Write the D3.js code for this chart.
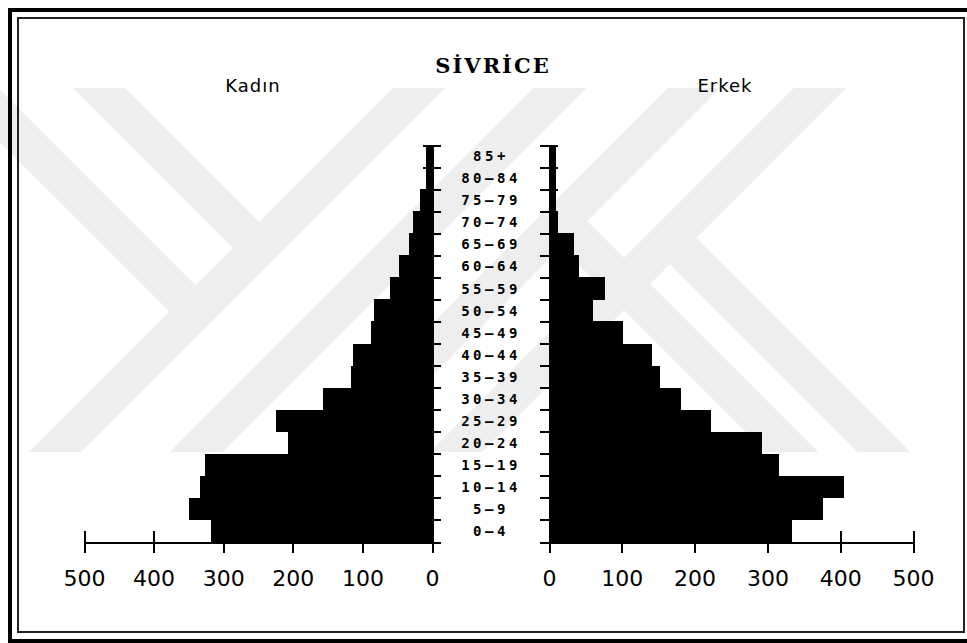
<!DOCTYPE html>
<html>
<head>
<meta charset="utf-8">
<script src="https://cdn.jsdelivr.net/npm/d3@7"></script>
<style>
  html, body { margin: 0; padding: 0; background: #fff; }
  svg { display: block; }
</style>
</head>
<body>
<svg id="chart"></svg>
<script>
// age groups, bottom to top
const ages = ["0–4", "5–9", "10–14", "15–19", "20–24", "25–29", "30–34", "35–39", "40–44",
              "45–49", "50–54", "55–59", "60–64", "65–69", "70–74", "75–79", "80–84", "85+"];
// Kadın (women), left side
const kadin = [318, 349, 334, 326, 207, 224, 157, 116, 113, 87, 84, 61, 47, 33, 27, 17, 9, 9];
// Erkek (men), right side
const erkek = [334, 377, 405, 316, 292, 223, 181, 152, 141, 102, 60, 77, 41, 34, 13, 10, 9, 9];
const xTicks = [0, 100, 200, 300, 400, 500];

const W = 967, H = 643;
const svg = d3.select('#chart').attr('width', W).attr('height', H);

svg.append('rect').attr('width', W).attr('height', H).attr('fill', '#fff');

// faint watermark behind the chart
const wm = svg.append('g').attr('clip-path', 'url(#wmclip)');
svg.append('defs').append('clipPath').attr('id', 'wmclip')
  .append('rect').attr('x', 0).attr('y', 88).attr('width', W).attr('height', 364);
const wmBands = [
  [[-88, 28], [195, 311]],
  [[39, 28], [259, 248]],
  [[479, 28], [-81, 588]],
  [[620, 28], [60, 588]],
  [[754, 28], [194, 588]],
  [[880, 28], [320, 588]],
  [[670, 238], [990, 558]],
  [[561, 221], [881, 541]]
];
wm.selectAll('line').data(wmBands).join('line')
  .attr('x1', d => d[0][0]).attr('y1', d => d[0][1])
  .attr('x2', d => d[1][0]).attr('y2', d => d[1][1])
  .attr('stroke', '#eeeeee').attr('stroke-width', 37);

// frames
svg.append('rect').attr('x', 10).attr('y', 10).attr('width', 1000).attr('height', 631)
  .attr('fill', 'none').attr('stroke', '#000').attr('stroke-width', 4);
svg.append('rect').attr('x', 18).attr('y', 18).attr('width', 946).attr('height', 614)
  .attr('fill', 'none').attr('stroke', '#222').attr('stroke-width', 2);

// scales
const xL = d3.scaleLinear().domain([0, 500]).range([432, 84]);
const xR = d3.scaleLinear().domain([0, 500]).range([549, 913]);
const y = d3.scaleBand().domain(ages).range([542, 145]);
const yEdge = d3.scaleLinear().domain([0, ages.length]).range([542, 145]);

// bars
svg.append('g').attr('shape-rendering', 'crispEdges')
  .selectAll('rect').data(ages).join('rect')
  .attr('x', (d, i) => xL(kadin[i]))
  .attr('y', d => y(d))
  .attr('width', (d, i) => xL(0) - xL(kadin[i]))
  .attr('height', y.bandwidth() + 0.5)
  .attr('fill', '#000');

svg.append('g').attr('shape-rendering', 'crispEdges')
  .selectAll('rect').data(ages).join('rect')
  .attr('x', xR(0))
  .attr('y', d => y(d))
  .attr('width', (d, i) => xR(erkek[i]) - xR(0))
  .attr('height', y.bandwidth() + 0.5)
  .attr('fill', '#000');

function styleAxis(g) {
  g.selectAll('path, line').attr('stroke', '#000').attr('stroke-width', 2)
    .attr('shape-rendering', 'crispEdges');
}

// bottom axes
[xL, xR].forEach(sc => {
  svg.append('g')
    .attr('transform', 'translate(0,542)')
    .call(d3.axisBottom(sc).tickValues(xTicks).tickSize(11).tickSizeOuter(0))
    .call(styleAxis)
    .call(g => g.selectAll('.tick line').attr('y1', -11).attr('y2', 11))
    .call(g => g.selectAll('.tick text')
      .attr('y', 44).attr('dy', null)
      .attr('fill', '#000')
      .style('font-family', '"DejaVu Sans", sans-serif')
      .style('font-size', '22px'));
});

// vertical axes with ticks at the group boundaries
svg.append('g')
  .attr('transform', 'translate(432,0)')
  .call(d3.axisRight(yEdge).tickValues(d3.range(ages.length + 1)).tickSize(9).tickSizeOuter(0).tickFormat(''))
  .call(styleAxis)
  .call(g => g.selectAll('.tick line').attr('x1', -9));

svg.append('g')
  .attr('transform', 'translate(549,0)')
  .call(d3.axisLeft(yEdge).tickValues(d3.range(ages.length + 1)).tickSize(9).tickSizeOuter(0).tickFormat(''))
  .call(styleAxis)
  .call(g => g.selectAll('.tick line').attr('x1', 9));

// age labels in the middle
svg.append('g').selectAll('text').data(ages).join('text')
  .attr('x', 491)
  .attr('y', d => y(d) + y.bandwidth() / 2)
  .attr('dy', '0.37em')
  .attr('text-anchor', 'middle')
  .style('font-family', '"DejaVu Sans Mono", monospace')
  .style('font-weight', 'bold')
  .style('font-size', '14px')
  .style('letter-spacing', '3.5px')
  .text(d => d);

// titles
svg.append('text')
  .attr('x', 493).attr('y', 73)
  .attr('text-anchor', 'middle')
  .style('font-family', '"DejaVu Serif", serif')
  .style('font-weight', 'bold')
  .style('font-size', '21px')
  .style('letter-spacing', '2px')
  .text('SİVRİCE');

svg.append('text')
  .attr('x', 253).attr('y', 92)
  .attr('text-anchor', 'middle')
  .style('font-family', '"DejaVu Sans", sans-serif')
  .style('font-size', '18px')
  .style('letter-spacing', '1px')
  .text('Kadın');

svg.append('text')
  .attr('x', 725).attr('y', 92)
  .attr('text-anchor', 'middle')
  .style('font-family', '"DejaVu Sans", sans-serif')
  .style('font-size', '18px')
  .style('letter-spacing', '1px')
  .text('Erkek');
</script>
</body>
</html>
